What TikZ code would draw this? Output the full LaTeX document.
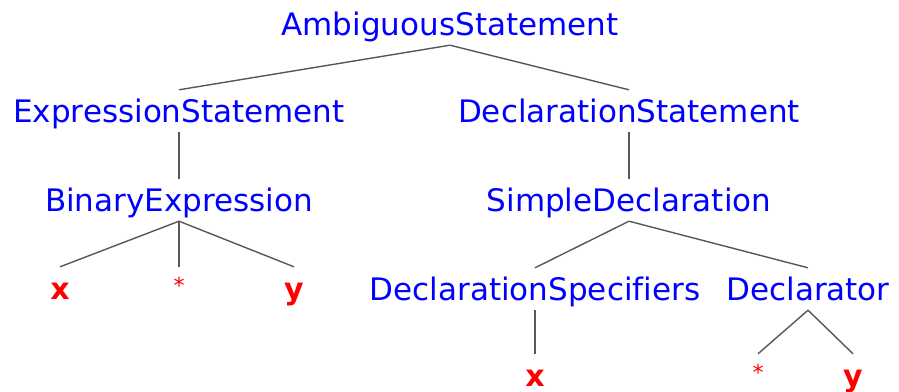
\documentclass[tikz,border=0pt]{standalone}
\usepackage{fontspec}
\setmainfont[Ligatures=NoCommon]{DejaVu Sans}
\begin{document}
\begin{tikzpicture}[x=1pt,y=-1pt,
  treenode/.style={anchor=base,font=\fontsize{31}{37}\selectfont,
    text height=23pt,text depth=1pt,inner xsep=0pt,inner ysep=9pt},
  inner/.style={treenode,text=blue},
  leaf/.style={treenode,text=red,font=\fontsize{30}{36}\selectfont\bfseries},
  edge/.style={draw=black!66,line width=1.4pt}]
\useasboundingbox (0,0) rectangle (899,391);
\newcommand{\smallstar}{\raisebox{6pt}{\fontsize{22}{26}\selectfont\mdseries *}}

% nonterminals
\node[inner] (amb)   at (450,35)  {AmbiguousStatement};
\node[inner] (exst)  at (179,122) {ExpressionStatement};
\node[inner] (dcst)  at (629,122) {DeclarationStatement};
\node[inner] (bin)   at (179,211) {BinaryExpression};
\node[inner] (sdecl) at (629,211) {SimpleDeclaration};
\node[inner] (dspec) at (535,300) {DeclarationSpecifiers};
\node[inner] (dtor)  at (808,300) {Declarator};

% tokens
\node[leaf] (bx)    at (60,299)  {x};
\node[leaf] (bstar) at (179,299) {\smallstar};
\node[leaf] (by)    at (294,299) {y};
\node[leaf] (sx)    at (535,386) {x};
\node[leaf] (dstar) at (758,386) {\smallstar};
\node[leaf] (dy)    at (853,386) {y};

% branches
\draw[edge] (amb.south) -- (exst.north);
\draw[edge] (amb.south) -- (dcst.north);
\draw[edge] (exst.south) -- (bin.north);
\draw[edge] (dcst.south) -- (sdecl.north);
\draw[edge] (bin.south) -- (bx.north);
\draw[edge] (bin.south) -- (bstar.north);
\draw[edge] (bin.south) -- (by.north);
\draw[edge] (sdecl.south) -- (dspec.north);
\draw[edge] (sdecl.south) -- (dtor.north);
\draw[edge] (dspec.south) -- (sx.north);
\draw[edge] (dtor.south) -- (dstar.north);
\draw[edge] (dtor.south) -- (dy.north);
\end{tikzpicture}
\end{document}
